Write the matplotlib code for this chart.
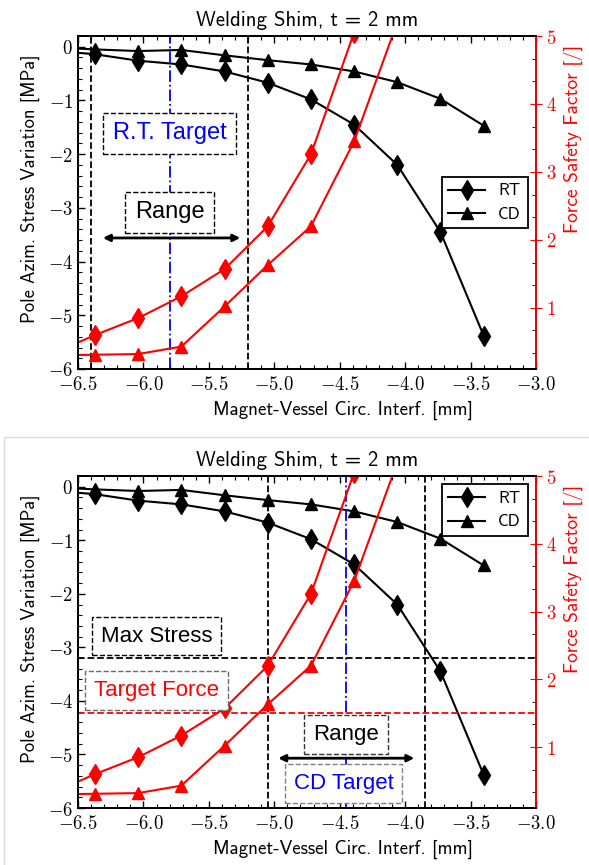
import matplotlib
matplotlib.use("Agg")
import matplotlib.pyplot as plt
from matplotlib.ticker import FuncFormatter, MultipleLocator, AutoMinorLocator
from matplotlib.patches import Rectangle

"""
Two panels of the same welding shim study: pole stress (left axis) and
force safety factor (right axis) against the magnet-vessel interference.
"""

plt.rcParams['mathtext.fontset'] = 'cm'

# data
interf = [-6.70, -6.37, -6.04, -5.71, -5.38, -5.05, -4.72, -4.39, -4.06, -3.73, -3.40]
rt_stress = [-0.07, -0.14, -0.26, -0.33, -0.46, -0.67, -0.98, -1.45, -2.20, -3.45, -5.38]
cd_stress = [-0.01, -0.05, -0.08, -0.06, -0.16, -0.25, -0.33, -0.46, -0.66, -0.97, -1.47]
rt_force = [0.32, 0.60, 0.85, 1.17, 1.57, 2.20, 3.26, 5.05]
cd_force = [0.30, 0.31, 0.32, 0.43, 1.02, 1.63, 2.20, 3.45, 5.20]

# limits of the two windows
rt_window = [-6.40, -5.20]
rt_target = -5.80
cd_window = [-5.05, -3.85]
cd_target = -4.45
max_stress = -3.2
target_force = 1.5

SANS = 'cmss10'
BOXFONT = 'Liberation Sans'
TICKSIZE = 13.5


def mathfmt(fmt):
    return FuncFormatter(lambda v, p: '$' + (fmt % v) + '$')


# boxed text, placed in the stress axis coordinates but drawn on the top axes
def boxtext(top, host, x, y, s, color, edge, size):
    top.text(x, y, s, color=color, fontsize=size, family=BOXFONT,
             ha='center', va='center', transform=host.transData, zorder=10,
             bbox=dict(boxstyle='square,pad=0.4', fc='white', ec=edge, ls='--', lw=1))


def arrow(top, host, x0, x1, y):
    top.annotate('', xy=(x0, y), xytext=(x1, y), xycoords=host.transData,
                 textcoords=host.transData, zorder=11,
                 arrowprops=dict(arrowstyle='<|-|>', color='black', lw=2, mutation_scale=10,
                                 shrinkA=0, shrinkB=0))


# draws one panel and returns both axes
def panel(rect, legend_loc):
    ax = fig.add_axes(rect)
    ax.plot(interf, rt_stress, 'k-', marker='d', ms=10, lw=1.5, label='RT')
    ax.plot(interf, cd_stress, 'k-', marker='^', ms=9, lw=1.5, label='CD')
    ax.set_xlim(-6.5, -3.0)
    ax.set_ylim(-6, 0.2)
    ax.xaxis.set_major_locator(MultipleLocator(0.5))
    ax.xaxis.set_minor_locator(MultipleLocator(0.1))
    ax.yaxis.set_major_locator(MultipleLocator(1))
    ax.yaxis.set_minor_locator(MultipleLocator(0.2))
    ax.xaxis.set_major_formatter(mathfmt('%.1f'))
    ax.yaxis.set_major_formatter(mathfmt('%d'))
    ax.tick_params(which='both', direction='in', top=True, right=False, labelsize=TICKSIZE)
    ax.tick_params(which='major', length=5, width=1)
    ax.tick_params(which='minor', length=3, width=0.8)
    ax.tick_params(axis='x', pad=4)
    for s in ax.spines.values():
        s.set_linewidth(1.3)
    ax.set_title('Welding Shim, t = 2 mm', family=SANS, fontsize=15, pad=7)
    ax.set_xlabel('Magnet-Vessel Circ. Interf. [mm]', family=SANS, fontsize=13.7)
    ax.set_ylabel('Pole Azim. Stress Variation [MPa]', family=SANS, fontsize=13.4)
    ax.xaxis.set_label_coords(0.579, -0.095)
    ax.yaxis.set_label_coords(-0.082, 0.54)
    leg = ax.legend(loc=legend_loc, prop={'family': SANS, 'size': 12},
                    fancybox=False, edgecolor='black', framealpha=1, handlelength=2.2)
    leg.get_frame().set_linewidth(1.3)

    ax2 = ax.twinx()
    ax2.plot(interf[:len(rt_force)], rt_force, 'r-', marker='d', ms=10, lw=1.5)
    ax2.plot(interf[:len(cd_force)], cd_force, 'r-', marker='^', ms=9, lw=1.5)
    ax2.set_ylim(0.1, 5)
    ax2.yaxis.set_major_locator(MultipleLocator(1))
    ax2.yaxis.set_minor_locator(AutoMinorLocator(3))
    ax2.yaxis.set_major_formatter(mathfmt('%d'))
    ax2.tick_params(which='major', direction='inout', length=8, colors='red', labelsize=TICKSIZE)
    ax2.tick_params(which='minor', direction='in', length=3, color='black')
    for s in ax2.spines.values():
        s.set_linewidth(1.3)
    ax2.spines['right'].set_color('red')
    ax2.set_ylabel('Force Safety Factor [/]', family=SANS, fontsize=14, color='red')
    ax2.yaxis.set_label_coords(1.06, 0.69)
    return ax, ax2


fig = plt.figure(figsize=(5.89, 8.65), dpi=100)

# frame round the lower picture
fig.patches.append(Rectangle((4 / 589, -0.01), 1.0, (865 - 437) / 865 + 0.01,
                             transform=fig.transFigure, fill=False, ec='#dcdcdc', lw=1))

# upper panel: room temperature window
ax, ax2 = panel([78 / 589, (865 - 369) / 865, 458 / 589, 333 / 865], 'center right')
for xv in rt_window:
    ax.axvline(xv, color='black', ls='--', lw=1.3)
ax.axvline(rt_target, color='blue', ls='-.', lw=1.3)
boxtext(ax2, ax, rt_target, -1.61, 'R.T. Target', 'blue', 'black', 17)
boxtext(ax2, ax, rt_target, -3.08, 'Range', 'black', 'black', 17)
arrow(ax2, ax, -6.31, -5.26, -3.56)

# lower panel: cool-down window
bx, bx2 = panel([78 / 589, (865 - 808) / 865, 458 / 589, 332 / 865], 'upper right')
for xv in cd_window:
    bx.axvline(xv, color='black', ls='--', lw=1.3)
bx.axvline(cd_target, color='blue', ls='-.', lw=1.3)
bx.axhline(max_stress, color='black', ls='--', lw=1.3)
bx2.axhline(target_force, color='red', ls='--', lw=1.3)
boxtext(bx2, bx, -5.90, -2.79, 'Max Stress', 'black', 'black', 16)
boxtext(bx2, bx, -5.90, -3.81, 'Target Force', 'red', 'dimgray', 16)
boxtext(bx2, bx, -4.45, -4.63, 'Range', 'black', '#333333', 16)
boxtext(bx2, bx, -4.47, -5.54, 'CD Target', 'blue', 'gray', 16)
arrow(bx2, bx, -4.97, -3.93, -5.07)

fig.savefig('out.png', dpi=100)
